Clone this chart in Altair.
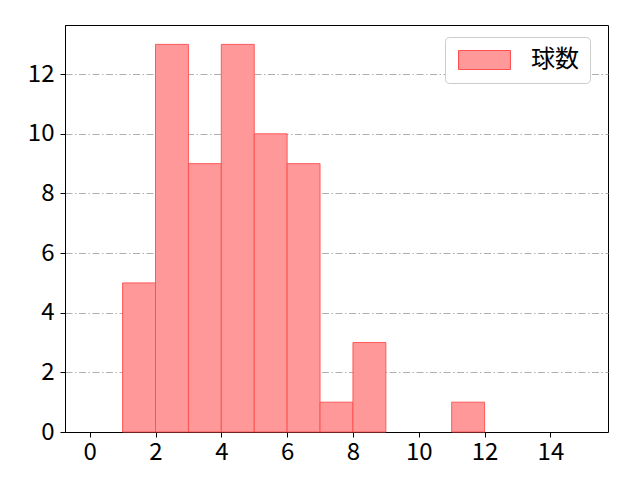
import altair as alt
import pandas as pd

bin_start = [1, 2, 3, 4, 5, 6, 7, 8, 9, 10, 11]
bin_end = [2, 3, 4, 5, 6, 7, 8, 9, 10, 11, 12]
counts = [5, 13, 9, 13, 10, 9, 1, 3, 0, 0, 1]
series = "球数"
x_ticks = [0, 2, 4, 6, 8, 10, 12, 14]
y_ticks = [0, 2, 4, 6, 8, 10, 12]

df = pd.DataFrame({"start": bin_start, "end": bin_end, "count": counts})
df["series"] = series
df = df[df["count"] > 0]

FONT = "Noto Sans CJK JP"

bars = alt.Chart(df).mark_rect(
    stroke="#ff4d4d", strokeWidth=1, strokeOpacity=0.9
).encode(
    x=alt.X("start:Q",
            scale=alt.Scale(domain=[-0.75, 15.75], nice=False, zero=False),
            axis=alt.Axis(values=x_ticks, title=None, grid=False, format="d",
                          tickSize=5, labelPadding=3,
                          labelFont=FONT, labelFontSize=24, labelColor="black",
                          domainColor="black", tickColor="black")),
    x2="end:Q",
    y=alt.Y("count:Q",
            scale=alt.Scale(domain=[0, 13.65], nice=False),
            axis=alt.Axis(values=y_ticks, title=None, grid=True, format="d",
                          tickSize=5, labelPadding=6,
                          labelFont=FONT, labelFontSize=24, labelColor="black",
                          domainColor="black", tickColor="black",
                          gridColor="#b0b0b0", gridDash=[7, 2.5, 1.5, 2.5],
                          gridWidth=1)),
    y2=alt.datum(0),
    color=alt.Color("series:N",
                    scale=alt.Scale(domain=[series], range=["#ff9999"]),
                    legend=alt.Legend(
                        title=None, orient="none", legendX=380, legendY=12,
                        fillColor="white", strokeColor="#cccccc",
                        cornerRadius=4, padding=11,
                        symbolType="M-1,-1L4.47,-1L4.47,1L-1,1Z",
                        symbolSize=361, symbolStrokeColor="#ff4d4d",
                        symbolStrokeWidth=1, symbolOpacity=1,
                        labelFont=FONT, labelFontSize=24, labelColor="black",
                        labelOffset=51, labelLimit=200)),
)

chart = bars.properties(
    width=543, height=407,
    background="white",
    padding={"left": 57, "top": 17, "right": 24, "bottom": 40},
    autosize=alt.AutoSizeParams(type="none"),
).configure_view(
    stroke="black", strokeWidth=1
)

chart.save("out.html", embed_options={"renderer": "svg", "actions": False})
